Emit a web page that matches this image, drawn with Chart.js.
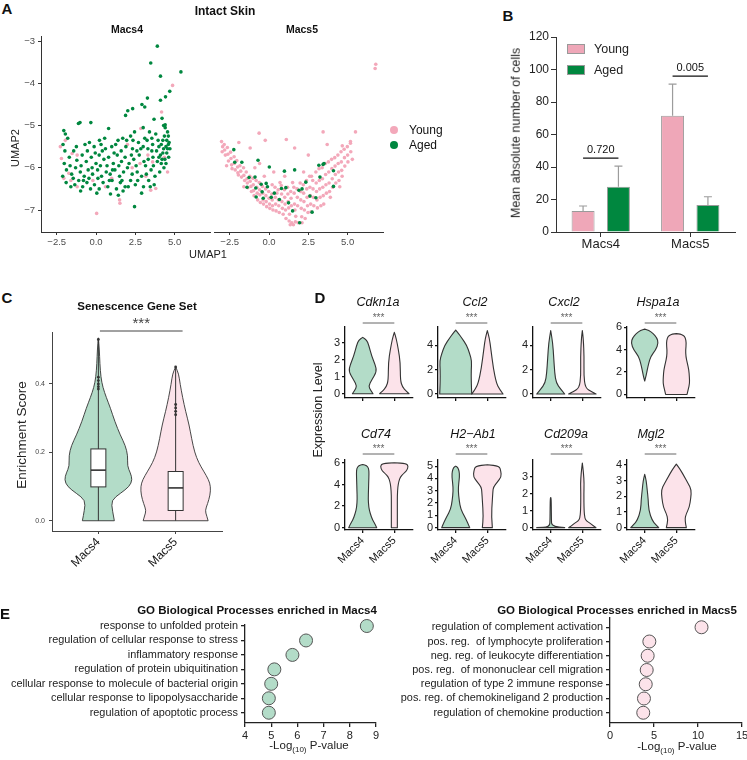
<!DOCTYPE html>
<html>
<head>
<meta charset="utf-8">
<title>Macs4 / Macs5 in intact skin</title>
<script src="https://cdn.jsdelivr.net/npm/chart.js@4.4.1/dist/chart.umd.min.js"></script>
<style>
  body { margin: 0; background: #fff; }
  #fig { position: relative; width: 747px; height: 760px; overflow: hidden; background: #fff;
         font-family: "Liberation Sans", Arial, sans-serif; color: #111; }
  #fig canvas { position: absolute; }
  .t { position: absolute; white-space: pre; line-height: 1; }
  .sw { position: absolute; }
</style>
</head>
<body>
<div id="fig"></div>
<script>
// ---------- A: UMAP, intact skin ----------
const umapXTicks = [-2.5, 0, 2.5, 5];
const umapYTicks = [-7, -6, -5, -4, -3];
const macs4Aged = [
  [-2.05,-5.12],[-1.95,-5.2],[-2.1,-5.45],[-1.98,-5.6],[-2.02,-5.9],[-1.88,-6.05],[-2.12,-6.2],[-1.9,-6.35],
  [-1.7,-5.75],[-1.55,-6.15],[-1.6,-6.45],[-1.42,-5.6],[-1.35,-6.4],[-1.3,-6.0],[-1.22,-5.82],[-1.1,-6.3],
  [-1.12,-4.95],[-1.02,-4.93],[-1.0,-6.1],[-0.98,-6.55],[-0.88,-5.7],[-0.85,-6.45],[-0.75,-6.2],[-0.7,-5.45],
  [-0.62,-5.85],[-0.58,-6.35],[-0.5,-6.05],[-0.42,-5.4],[-0.35,-6.5],[-0.3,-5.75],[-0.22,-6.15],[-0.12,-5.5],
  [-0.1,-6.4],[0.0,-5.9],[0.05,-6.6],[0.1,-6.05],[0.2,-5.7],[0.22,-5.35],[0.2,-6.5],[0.32,-5.45],[0.35,-6.2],
  [0.45,-6.35],[0.5,-5.8],[0.55,-5.3],[0.6,-5.55],[0.65,-6.1],[0.75,-6.45],[0.8,-5.75],[0.8,-5.07],[0.9,-6.15],
  [0.92,-6.62],[1.0,-5.5],[1.02,-6.3],[1.1,-5.9],[1.2,-6.05],[1.25,-5.45],[1.3,-6.5],[1.35,-5.7],[1.4,-5.35],
  [1.42,-6.65],[1.5,-6.2],[1.55,-6.35],[1.6,-5.6],[1.62,-5.85],[1.7,-5.3],[1.72,-6.55],[1.75,-6.1],[1.85,-5.75],
  [1.85,-6.45],[1.9,-5.5],[2.0,-6.0],[2.1,-5.9],[2.2,-5.25],[2.2,-6.3],[2.3,-6.15],[2.32,-5.55],[2.4,-5.8],
  [2.45,-5.15],[2.5,-6.4],[2.6,-5.6],[2.62,-6.1],[2.7,-5.4],[2.75,-5.7],[2.9,-6.2],[2.9,-6.6],[3.0,-5.5],
  [3.0,-5.05],[3.02,-6.45],[3.05,-5.85],[3.1,-5.3],[3.2,-6.15],[3.3,-5.55],[3.32,-5.8],[3.35,-6.3],[3.4,-5.15],
  [3.5,-6.05],[3.55,-5.3],[3.6,-5.45],[3.62,-5.75],[3.7,-6.4],[3.75,-6.2],[3.8,-5.2],[3.85,-5.6],[3.9,-5.85],
  [4.0,-5.5],[4.05,-6.1],[4.1,-5.7],[4.15,-5.45],[4.2,-5.8],[4.25,-5.65],[4.3,-5.0],[4.3,-5.55],[4.32,-6.0],
  [4.4,-5.05],[4.45,-5.5],[4.45,-5.9],[4.5,-5.35],[4.5,-5.65],[4.6,-5.25],[4.6,-5.45],[4.62,-5.75],[4.7,-5.55],
  [-1.8,-5.3],[-1.65,-5.95],[-1.45,-6.25],[-1.25,-5.5],[-0.95,-5.95],[-0.8,-6.3],[-0.55,-5.6],[-0.45,-6.25],
  [-0.25,-6.0],[-0.05,-5.65],[0.12,-6.25],[0.28,-5.95],[0.4,-5.6],[0.7,-5.95],[0.85,-6.3],[1.05,-6.05],
  [1.15,-5.65],[1.45,-5.95],[1.65,-6.3],[1.95,-5.35],[2.05,-6.45],[2.25,-5.7],[2.55,-5.95],[2.65,-6.3],
  [2.85,-5.55],[3.15,-5.95],[3.25,-5.35],[3.45,-6.45],[3.65,-5.95],[3.95,-5.35],[4.0,-5.75],[4.15,-5.9],
  [4.25,-5.35],[4.35,-5.25],[4.55,-5.55],[4.65,-5.4],[4.55,-5.15],[4.38,-5.8],[3.55,-5.6],[2.35,-5.35],
  [3.9,-3.12],[3.48,-3.52],[4.1,-3.83],[5.4,-3.73],[4.69,-4.19],[4.42,-4.32],[4.1,-4.4],[3.27,-4.35],[3.1,-4.56],
  [2.92,-4.5],[2.33,-4.6],[1.88,-4.76],[2.02,-4.65],[3.69,-4.85],[4.2,-4.83],[4.4,-4.98],[-0.33,-4.93],[2.45,-6.92]
];
const macs4Young = [
  [4.87,-4.05],[4.17,-4.68],[2.85,-5.07],[-2.27,-5.5],[-2.2,-5.78],[-1.52,-5.66],[-1.2,-5.7],[0.04,-7.08],
  [1.5,-6.76],[1.52,-6.84],[3.48,-6.53],[3.8,-6.49],[3.17,-6.2],[3.6,-5.86],[-1.2,-6.45],[-1.73,-6.13],
  [-2.05,-6.25],[2.3,-6.0],[2.0,-5.45],[1.0,-6.25],[-0.2,-6.3],[3.3,-5.7],[4.55,-6.1],[4.35,-5.75],
  [-1.6,-6.3],[0.6,-6.45],[2.8,-5.9],[-1.95,-5.35]
];
const macs5Young = [
  [-3.02,-5.38],[-2.95,-5.5],[-2.98,-5.62],[-2.85,-5.45],[-2.82,-5.58],[-2.78,-5.7],[-2.65,-5.52],[-2.62,-5.68],
  [-2.58,-5.84],[-2.45,-5.63],[-2.42,-5.78],[-2.38,-5.93],[-2.35,-6.02],[-2.22,-5.74],[-2.2,-5.9],[-2.15,-6.05],
  [-2.05,-5.83],[-2.0,-5.98],[-1.98,-6.12],[-1.95,-6.17],[-1.85,-5.95],[-1.8,-6.08],[-1.75,-6.22],[-1.62,-6.0],
  [-1.6,-6.18],[-1.55,-6.3],[-1.45,-6.1],[-1.4,-6.26],[-1.38,-6.36],[-1.35,-6.47],[-1.22,-6.2],[-1.2,-6.32],
  [-1.15,-6.44],[-1.12,-6.56],[-1.02,-6.25],[-1.0,-6.4],[-0.98,-6.54],[-0.95,-6.66],[-0.82,-6.3],[-0.78,-6.46],
  [-0.75,-6.6],[-0.72,-6.76],[-0.62,-6.35],[-0.6,-6.52],[-0.58,-6.64],[-0.55,-6.82],[-0.42,-6.44],[-0.4,-6.6],
  [-0.38,-6.76],[-0.35,-6.86],[-0.22,-6.5],[-0.2,-6.66],[-0.18,-6.8],[-0.15,-6.92],[-0.02,-6.56],[0.0,-6.72],
  [0.03,-6.86],[0.05,-6.96],[0.18,-6.62],[0.2,-6.76],[0.22,-6.9],[0.25,-7.0],[0.38,-6.46],[0.4,-6.7],
  [0.42,-6.86],[0.45,-7.02],[0.58,-6.52],[0.6,-6.76],[0.62,-6.9],[0.65,-7.06],[0.78,-6.42],[0.8,-6.62],
  [0.82,-6.8],[0.85,-6.96],[0.98,-6.52],[1.0,-6.7],[1.02,-6.86],[1.05,-7.0],[1.08,-7.2],[1.18,-6.46],
  [1.2,-6.62],[1.22,-6.8],[1.25,-6.95],[1.28,-7.26],[1.38,-6.56],[1.4,-6.72],[1.42,-6.9],[1.45,-7.3],
  [1.58,-6.46],[1.6,-6.6],[1.62,-6.86],[1.65,-7.0],[1.68,-7.28],[1.78,-6.5],[1.8,-6.7],[1.82,-6.9],
  [1.85,-7.3],[1.98,-6.36],[2.0,-6.56],[2.02,-6.76],[2.05,-6.96],[2.08,-7.16],[2.18,-6.4],[2.2,-6.6],
  [2.22,-6.8],[2.25,-7.0],[2.38,-6.3],[2.4,-6.5],[2.42,-6.7],[2.45,-6.9],[2.48,-7.06],[2.58,-6.2],
  [2.6,-6.46],[2.62,-6.66],[2.65,-6.86],[2.68,-7.04],[2.78,-6.3],[2.8,-6.5],[2.82,-6.7],[2.85,-6.9],
  [2.98,-6.1],[3.0,-6.36],[3.02,-6.56],[3.05,-6.76],[3.08,-6.95],[3.18,-6.02],[3.2,-6.3],[3.22,-6.5],
  [3.25,-6.7],[3.38,-6.0],[3.4,-6.26],[3.42,-6.46],[3.45,-6.66],[3.48,-6.86],[3.58,-5.9],[3.6,-6.16],
  [3.62,-6.4],[3.65,-6.6],[3.78,-5.86],[3.8,-6.1],[3.82,-6.36],[3.85,-6.56],[3.98,-5.8],[4.0,-6.02],
  [4.02,-6.26],[4.05,-6.46],[4.18,-5.76],[4.2,-5.96],[4.22,-6.16],[4.25,-6.36],[4.38,-5.7],[4.4,-5.9],
  [4.42,-6.1],[4.45,-6.3],[4.58,-5.62],[4.6,-5.86],[4.62,-6.06],[4.65,-6.2],[4.78,-5.56],[4.8,-5.76],
  [4.82,-5.96],[4.98,-5.5],[5.0,-5.7],[5.02,-5.86],[5.18,-5.42],[5.2,-5.62],
  [0.5,-6.6],[0.9,-7.1],[1.3,-7.1],[1.7,-7.15],[2.3,-7.2],[2.1,-7.3],[1.55,-7.35],[1.35,-7.35],
  [0.7,-6.35],[1.5,-6.35],[2.7,-6.2],[-1.6,-6.45],[-0.9,-6.0],[3.3,-6.9],[3.9,-6.7],[4.5,-6.45],
  [5.3,-5.8],[-2.7,-5.95],[-0.3,-6.2],[0.2,-6.4],
  [-0.63,-5.18],[1.1,-5.33],[3.44,-5.15],[-0.24,-5.35],[-1.2,-5.53],[-1.92,-5.4],[1.63,-5.53],[3.7,-5.45],
  [4.66,-5.48],[5.18,-5.38],[5.5,-5.15],[6.79,-3.55],[6.75,-3.65],[2.5,-5.7],[0.3,-6.1],[-0.6,-5.9],
  [1.0,-6.2],[2.2,-6.1]
];
const macs5Aged = [
  [-2.24,-5.57],[-2.18,-5.87],[-1.73,-5.87],[-0.7,-5.82],[0.02,-5.98],[0.98,-6.08],[1.63,-6.05],[-0.89,-6.22],
  [-1.27,-6.23],[-0.5,-6.39],[-0.18,-6.37],[-0.1,-6.45],[-1.4,-6.46],[-0.84,-6.48],[-0.44,-6.57],[-0.82,-6.69],
  [-0.37,-6.72],[0.14,-6.7],[0.34,-6.6],[0.79,-6.49],[1.07,-6.47],[0.66,-6.75],[1.24,-6.83],[1.5,-7.02],
  [1.9,-6.53],[2.1,-6.5],[2.34,-6.34],[2.6,-6.67],[2.98,-6.71],[2.74,-7.05],[1.95,-7.3],[3.24,-6.22],
  [3.17,-5.94],[3.44,-5.92],[3.5,-5.9],[4.1,-6.07],[4.1,-6.44]
];

// ---------- B: mean absolute number of cells ----------
const cellTypes = ['Macs4', 'Macs5'];
const youngMean = [12.9, 71.5];
const youngSem = [3.1, 19.5];
const agedMean = [27.8, 16.6];
const agedSem = [12.7, 5.1];
const pValues = ['0.720', '0.005'];
const pLevels = [45.5, 95.9];
const barYTicks = [0, 20, 40, 60, 80, 100, 120];

// ---------- C: senescence gene set enrichment ----------
const scoreTicks = [0, 0.2, 0.4];
const scoreLevels4 = [0, 0.03, 0.06, 0.08, 0.10, 0.12, 0.14, 0.16, 0.19, 0.22, 0.25, 0.29, 0.33, 0.36, 0.39, 0.42, 0.46, 0.50, 0.535];
const scoreDens4 = [16, 14, 13, 22, 31, 34, 32, 29, 29.5, 27, 22, 16.5, 12, 8, 4.5, 2.5, 1.5, 1, 0];
const scoreLevels5 = [0, 0.015, 0.03, 0.05, 0.075, 0.10, 0.12, 0.145, 0.17, 0.20, 0.24, 0.28, 0.32, 0.36, 0.40, 0.43, 0.45];
const scoreDens5 = [32.5, 31, 29.5, 32, 34.5, 35, 33, 28, 23, 19, 16, 13.5, 10, 7, 4.5, 3, 0];
// min, q1, median, q3, max
const scoreBox = [[0, 0.099, 0.148, 0.21, 0.53], [0, 0.030, 0.096, 0.144, 0.45]];
const scoreOutliers = [[0.385, 0.392, 0.40, 0.41, 0.42, 0.53], [0.31, 0.32, 0.33, 0.34, 0.45]];

// ---------- D: expression level per gene ----------
const genes = ['Cdkn1a', 'Ccl2', 'Cxcl2', 'Hspa1a', 'Cd74', 'H2\u2212Ab1', 'Cd209a', 'Mgl2'];
const exprMin = [-0.25, -0.33, -0.33, -0.32, -0.21, -0.19, -0.14, -0.15];
const exprMax = [3.91, 5.5, 5.5, 6.04, 6.27, 5.5, 3.98, 4.31];
const exprTicks = [[0,1,2,3], [0,2,4], [0,2,4], [0,2,4,6], [0,2,4,6], [0,1,2,3,4,5], [0,1,2,3], [0,1,2,3,4]];
const exprLevels4 = [
  [0, 0.2, 0.45, 0.8, 1.3, 1.7, 2.2, 2.85, 3.15, 3.3],
  [0, 1, 2, 2.7, 3.3, 4, 4.6, 5.0, 5.25],
  [0, 0.4, 0.9, 1.7, 3.0, 4.2, 5.2],
  [1.2, 1.7, 2.2, 2.8, 3.4, 4.0, 4.6, 5.1, 5.45, 5.75, 5.85],
  [0, 0.3, 0.7, 1.3, 1.9, 2.7, 3.5, 4.3, 5.0, 5.5, 5.75, 5.85],
  [0, 0.4, 0.9, 1.5, 2.2, 3.0, 3.6, 4.15, 4.6, 4.9, 5.0],
  [0, 0.03, 0.5, 1.2, 1.75, 1.77],
  [0, 0.2, 0.45, 1.1, 1.8, 2.4, 3.0, 3.4]
];
const exprDens4 = [
  [10.3, 8, 5.8, 9, 14, 12.5, 9, 6, 4, 0],
  [16, 15.5, 15.5, 16, 14, 11, 6, 2.5, 0],
  [14, 10, 5.5, 4, 3, 2, 0],
  [0, 1.5, 2.5, 4, 6, 11, 13.7, 12, 8.5, 4, 0],
  [14, 12.5, 10, 7.5, 6, 5.5, 5.8, 6, 6.3, 6, 4, 0],
  [14, 12, 9, 5, 3.5, 2.5, 3, 3.8, 3.5, 2, 0],
  [14, 1, 0.7, 0.6, 0.4, 0],
  [14, 11, 7.5, 4, 3.5, 2.5, 1.5, 0]
];
const exprLevels5 = [
  [0, 0.15, 0.4, 0.8, 1.8, 2.6, 3.2, 3.6],
  [0, 0.4, 0.9, 2.1, 3.7, 4.6, 5.2],
  [0, 0.2, 0.5, 1.5, 3.0, 4.5, 5.2],
  [0, 0.5, 1, 1.6, 2.2, 2.8, 3.4, 4.0, 4.6, 5.1, 5.3, 5.4, 5.45],
  [0, 1, 2, 3, 3.8, 4.3, 4.7, 5.0, 5.3, 5.7, 5.95, 6.02],
  [0, 0.9, 2.25, 2.9, 3.3, 3.7, 4.15, 4.6, 5.0, 5.12],
  [0, 0.1, 0.25, 0.4, 0.55, 1.0, 2.0, 2.6, 3.2, 3.8],
  [0, 0.5, 0.9, 1.3, 1.9, 2.4, 2.8, 3.25, 3.7, 4.05]
];
const exprDens5 = [
  [14.7, 12, 8, 6, 6, 4, 2, 0],
  [15.7, 12, 9, 6, 3.5, 2, 0],
  [13.7, 9, 3, 1.5, 1.8, 1, 0],
  [10.7, 12, 13.3, 13, 12.5, 11, 9.5, 9.3, 10, 9, 7, 4, 0],
  [3, 3, 3, 3, 3.5, 4.5, 6, 9, 12.5, 14, 12, 0],
  [5, 4, 5, 5.5, 6, 10, 14, 13.5, 12, 0],
  [13.7, 11, 8, 4, 2.5, 1.7, 1.5, 1.8, 1.2, 0],
  [10, 8.3, 10, 13, 14.5, 15, 12, 8, 4, 0]
];

// ---------- E: GO biological processes ----------
const go4Terms = ['response to unfolded protein', 'regulation of cellular response to stress', 'inflammatory response',
  'regulation of protein ubiquitination', 'cellular response to molecule of bacterial origin',
  'cellular response to lipopolysaccharide', 'regulation of apoptotic process'];
const go4Vals = [8.65, 6.33, 5.81, 5.12, 5.0, 4.91, 4.91];
const go4Ticks = [4, 5, 6, 7, 8, 9];
const go5Terms = ['regulation of complement activation', 'pos. reg.  of lymphocyte proliferation',
  'neg. reg. of leukocyte differentiation', 'pos. reg.  of mononuclear cell migration',
  'regulation of type 2 immune response', 'pos. reg. of chemokineligand 2 production', 'regulation of chemokine production'];
const go5Vals = [10.4, 4.47, 4.28, 4.17, 4.06, 3.86, 3.78];
const go5Ticks = [0, 5, 10, 15];

const PINK = '#F3A8BA', GREEN = '#00873F';
const VGREEN = '#B3DCC8', VPINK = '#FCE3EA';

const fig = document.getElementById('fig');
Chart.defaults.font.family = '"Liberation Sans", Arial, sans-serif';
Chart.defaults.color = '#222';

// canvas placed so that its chart area lands on [l, t, r, b] of the page
function makeChart(area, yW, xH, padT, padR, config) {
  const [l, t, r, b] = area;
  const left = l - yW, top = t - padT;
  const cv = document.createElement('canvas');
  cv.width = r - left + padR;
  cv.height = b + xH - top;
  cv.style.left = left + 'px';
  cv.style.top = top + 'px';
  fig.appendChild(cv);
  const o = config.options;
  o.responsive = false;
  o.animation = false;
  o.layout = { autoPadding: false, padding: { left: 0, top: padT, right: padR, bottom: 0 } };
  o.plugins = Object.assign({ legend: { display: false }, tooltip: { enabled: false } }, o.plugins || {});
  if (o.scales.x.display !== false) o.scales.x.afterFit = s => { s.height = xH; };
  if (o.scales.y.display !== false) o.scales.y.afterFit = s => { s.width = yW; };
  return new Chart(cv, config);
}

function axis(min, max, ticks, fmt, o = {}) {
  const lc = o.lineColor || '#333', lw = o.lineWidth || 1;
  return {
    type: 'linear', min, max, reverse: !!o.reverse, display: o.display !== false,
    border: { display: o.border !== false, color: lc, width: lw },
    grid: { drawOnChartArea: false, drawTicks: true, tickLength: o.tickLength || 3, color: lc, lineWidth: lw },
    ticks: { display: o.labels !== false, autoSkip: false, padding: o.padding ?? 2,
             font: { size: o.size || 10 }, color: o.color || '#333',
             minRotation: o.rotation || 0, maxRotation: o.rotation || 0, callback: fmt },
    afterBuildTicks: s => { s.ticks = ticks.map(v => ({ value: v })); }
  };
}

function put(html, x, y, css, align, rot) {
  const d = document.createElement('div');
  d.className = 't';
  d.innerHTML = html;
  d.style.cssText += css;
  d.style.left = x + 'px';
  d.style.top = y + 'px';
  const tx = align === 'l' ? '0' : align === 'r' ? '-100%' : '-50%';
  d.style.transform = 'translate(' + tx + ',-50%)' + (rot ? ' rotate(' + rot + 'deg)' : '');
  fig.appendChild(d);
}

function smoothPath(ctx, pts) {
  ctx.moveTo(pts[0][0], pts[0][1]);
  for (let i = 1; i < pts.length - 1; i++) {
    const mx = (pts[i][0] + pts[i + 1][0]) / 2, my = (pts[i][1] + pts[i + 1][1]) / 2;
    ctx.quadraticCurveTo(pts[i][0], pts[i][1], mx, my);
  }
  ctx.lineTo(pts[pts.length - 1][0], pts[pts.length - 1][1]);
}

// violins drawn through the chart's own x / y scales
function violinPlugin(items, k, lw) {
  return {
    id: 'violins',
    beforeDatasetsDraw(chart) {
      const { ctx, scales: { x, y } } = chart;
      ctx.save();
      items.forEach(v => {
        const pts = [];
        v.levels.forEach((lv, i) => pts.push([x.getPixelForValue(v.center + v.dens[i] * k), y.getPixelForValue(lv)]));
        for (let i = v.levels.length - 1; i >= 0; i--)
          pts.push([x.getPixelForValue(v.center - v.dens[i] * k), y.getPixelForValue(v.levels[i])]);
        ctx.beginPath();
        smoothPath(ctx, pts);
        ctx.closePath();
        ctx.fillStyle = v.color;
        ctx.fill();
        ctx.strokeStyle = '#333';
        ctx.lineWidth = lw;
        ctx.lineJoin = 'round';
        ctx.stroke();
      });
      ctx.restore();
    }
  };
}

function boxPlugin(stats, half) {
  return {
    id: 'boxes',
    beforeDatasetsDraw(chart) {
      const { ctx, scales: { x, y } } = chart;
      ctx.save();
      ctx.strokeStyle = '#333';
      ctx.lineWidth = 1;
      stats.forEach((s, i) => {
        const c = x.getPixelForValue(i + 1), x0 = x.getPixelForValue(i + 1 - half), x1 = x.getPixelForValue(i + 1 + half);
        ctx.beginPath();
        ctx.moveTo(c, y.getPixelForValue(s[0]));
        ctx.lineTo(c, y.getPixelForValue(s[4]));
        ctx.stroke();
        const top = y.getPixelForValue(s[3]), bot = y.getPixelForValue(s[1]);
        ctx.fillStyle = '#fff';
        ctx.fillRect(x0, top, x1 - x0, bot - top);
        ctx.strokeRect(x0, top, x1 - x0, bot - top);
        ctx.beginPath();
        ctx.lineWidth = 1.6;
        ctx.moveTo(x0, y.getPixelForValue(s[2]));
        ctx.lineTo(x1, y.getPixelForValue(s[2]));
        ctx.stroke();
        ctx.lineWidth = 1;
      });
      ctx.restore();
    }
  };
}

// significance bracket above the plot area
function sigPlugin(x1, x2, lineUp, starUp, font, color) {
  return {
    id: 'sig',
    afterDraw(chart) {
      const { ctx, chartArea, scales: { x } } = chart;
      ctx.save();
      ctx.strokeStyle = color;
      ctx.lineWidth = 1;
      const ly = chartArea.top - lineUp;
      ctx.beginPath();
      ctx.moveTo(x.getPixelForValue(x1), ly);
      ctx.lineTo(x.getPixelForValue(x2), ly);
      ctx.stroke();
      ctx.fillStyle = color;
      ctx.font = font;
      ctx.textAlign = 'center';
      ctx.textBaseline = 'middle';
      ctx.fillText('***', (x.getPixelForValue(x1) + x.getPixelForValue(x2)) / 2, chartArea.top - starUp);
      ctx.restore();
    }
  };
}

const pts = arr => arr.map(([x, y]) => ({ x, y }));
const minus = v => (v < 0 ? '\u2212' : '') + Math.abs(v);

// ---------- A ----------
function umapChart(area, yW, aged, young, showY) {
  return makeChart(area, yW, 18, 12, 8, {
    type: 'scatter',
    data: { datasets: [
      { data: pts(aged), backgroundColor: GREEN, pointRadius: 1.8, pointBorderWidth: 0 },
      { data: pts(young), backgroundColor: PINK, pointRadius: 1.8, pointBorderWidth: 0 }
    ] },
    options: { scales: {
      x: axis(-3.5, 7.25, umapXTicks, v => (v < 0 ? '\u2212' : '') + Math.abs(v).toFixed(1), { size: 9.5, color: '#4d4d4d', padding: 2 }),
      y: axis(-7.52, -2.88, umapYTicks, minus, { size: 9.5, color: '#4d4d4d', padding: 3, display: showY })
    } }
  });
}
umapChart([41, 36, 210, 232], 41, macs4Aged, macs4Young, true);
umapChart([214, 36, 383, 232], 0, macs5Aged, macs5Young, false);

// ---------- B ----------
const barExtras = {
  id: 'barExtras',
  afterDatasetsDraw(chart) {
    const { ctx, scales: { y } } = chart;
    ctx.save();
    ctx.strokeStyle = '#9c9c9c';
    ctx.lineWidth = 1.2;
    [youngSem, agedSem].forEach((sem, di) => {
      chart.getDatasetMeta(di).data.forEach((bar, i) => {
        const m = chart.data.datasets[di].data[i];
        const top = y.getPixelForValue(m + sem[i]);
        ctx.beginPath();
        ctx.moveTo(bar.x, bar.y);
        ctx.lineTo(bar.x, top);
        ctx.moveTo(bar.x - 4, top);
        ctx.lineTo(bar.x + 4, top);
        ctx.stroke();
      });
    });
    ctx.strokeStyle = '#111';
    ctx.fillStyle = '#111';
    ctx.lineWidth = 1.3;
    ctx.font = '11px "Liberation Sans", Arial, sans-serif';
    ctx.textAlign = 'center';
    ctx.textBaseline = 'bottom';
    pValues.forEach((p, i) => {
      const a = chart.getDatasetMeta(0).data[i].x, b = chart.getDatasetMeta(1).data[i].x;
      const ly = y.getPixelForValue(pLevels[i]);
      ctx.beginPath();
      ctx.moveTo(a, ly);
      ctx.lineTo(b, ly);
      ctx.stroke();
      ctx.fillText(p, (a + b) / 2, ly - 3);
    });
    ctx.restore();
  }
};
makeChart([556, 37, 735, 232], 41, 28, 12, 10, {
  type: 'bar',
  data: { labels: cellTypes, datasets: [
    { data: youngMean, backgroundColor: '#EFA7B8', borderColor: '#9a9a9a', borderWidth: 1 },
    { data: agedMean, backgroundColor: GREEN, borderColor: '#9a9a9a', borderWidth: 1 }
  ] },
  options: {
    datasets: { bar: { categoryPercentage: 0.79, barPercentage: 0.65 } },
    scales: {
      x: { type: 'category', border: { color: '#333', width: 1 },
           grid: { offset: false, drawOnChartArea: false, tickLength: 5, color: '#333' },
           ticks: { font: { size: 13 }, color: '#222', padding: 0 } },
      y: axis(0, 120, barYTicks, v => v, { tickLength: 5, size: 12, color: '#222', padding: 2 })
    }
  },
  plugins: [barExtras]
});

// ---------- C ----------
const outlierPts = [];
scoreOutliers.forEach((list, i) => list.forEach(v => outlierPts.push({ x: i + 1, y: v })));
makeChart([52, 332, 222, 531], 42, 45, 20, 8, {
  type: 'scatter',
  data: { datasets: [{ data: outlierPts, backgroundColor: '#333', pointRadius: 1.4, pointBorderWidth: 0 }] },
  options: { scales: {
    x: axis(0.4, 2.6, [1, 2], v => cellTypes[v - 1], { rotation: 45, size: 12, color: '#111', padding: 1, lineColor: '#444' }),
    y: axis(-0.03, 0.552, scoreTicks, v => v.toFixed(1), { size: 7, color: '#444', padding: 4, lineColor: '#444' })
  } },
  plugins: [
    violinPlugin([
      { center: 1, levels: scoreLevels4, dens: scoreDens4, color: VGREEN },
      { center: 2, levels: scoreLevels5, dens: scoreDens5, color: VPINK }
    ], 1 / 77.3, 0.9),
    boxPlugin(scoreBox, 0.097),
    sigPlugin(1.02, 2.09, 1, 8, '15px "Liberation Sans", Arial, sans-serif', '#444')
  ]
});

// ---------- D ----------
const dCols = [345, 438, 533, 627];
const dRows = [[327, 398], [460, 530]];
genes.forEach((g, i) => {
  const col = i % 4, row = Math.floor(i / 4);
  const area = [dCols[col], dRows[row][0], dCols[col] + 68, dRows[row][1]];
  makeChart(area, 25, row === 0 ? 10 : 40, 20, 6, {
    type: 'scatter',
    data: { datasets: [] },
    options: { scales: {
      x: axis(0.44, 2.59, [1, 2], v => cellTypes[v - 1],
        { rotation: 45, size: 11, color: '#111', padding: 1, labels: row === 1, lineColor: '#111', lineWidth: 1.3 }),
      y: axis(exprMin[i], exprMax[i], exprTicks[i], v => v,
        { size: 11, color: '#222', padding: 2, lineColor: '#111', lineWidth: 1.3 })
    } },
    plugins: [
      violinPlugin([
        { center: 1, levels: exprLevels4[i], dens: exprDens4[i], color: VGREEN },
        { center: 2, levels: exprLevels5[i], dens: exprDens5[i], color: VPINK }
      ], 1 / 31.6, 1.1),
      sigPlugin(1, 2, row === 0 ? 4 : 6, row === 0 ? 9 : 11, '10px "Liberation Sans", Arial, sans-serif', '#666')
    ]
  });
});

// ---------- E ----------
function goChart(area, yW, padR, terms, vals, xMin, xMax, ticks, yMin, yMax, fill) {
  makeChart(area, yW, 20, 12, padR, {
    type: 'scatter',
    data: { datasets: [{
      data: vals.map((v, i) => ({ x: v, y: i })), clip: false,
      backgroundColor: fill, borderColor: '#555', pointRadius: 6.5, pointBorderWidth: 1
    }] },
    options: { scales: {
      x: axis(xMin, xMax, ticks, v => v, { size: 11, color: '#222', tickLength: 4, padding: 2, lineColor: '#222', lineWidth: 1.3 }),
      y: axis(yMin, yMax, terms.map((_, i) => i), v => terms[v],
        { reverse: true, size: 10.9, color: '#222', tickLength: 4, padding: 3, lineColor: '#222', lineWidth: 1.3 })
    } }
  });
}
goChart([245, 625, 376, 723], 245, 10, go4Terms, go4Vals, 4, 9, go4Ticks, -0.07, 6.71, VGREEN);
goChart([610, 618, 742, 723], 230, 10, go5Terms, go5Vals, 0, 15, go5Ticks, -0.65, 6.72, VPINK);

// ---------- text ----------
const bold15 = 'font-weight:bold;font-size:15px;';
put('A', 7, 8, bold15);
put('B', 508, 15, bold15);
put('C', 7, 297, bold15);
put('D', 320, 297, bold15);
put('E', 5, 613, bold15);

put('Intact Skin', 225, 11, 'font-weight:bold;font-size:12px;');
put('Macs4', 127, 29, 'font-weight:bold;font-size:10.5px;');
put('Macs5', 302, 29, 'font-weight:bold;font-size:10.5px;');
put('UMAP2', 15, 148, 'font-size:11px;color:#222;', 'c', -90);
put('UMAP1', 208, 254, 'font-size:11px;color:#222;');

const dot = (x, y, c) => {
  const d = document.createElement('div');
  d.className = 'sw';
  d.style.cssText = 'left:' + (x - 4) + 'px;top:' + (y - 4) + 'px;width:8px;height:8px;border-radius:50%;background:' + c;
  fig.appendChild(d);
};
dot(394, 130, PINK);
dot(394, 145, GREEN);
put('Young', 409, 130, 'font-size:12px;', 'l');
put('Aged', 409, 145, 'font-size:12px;', 'l');

put('Mean absolute number of cells', 516, 133, 'font-size:12.5px;color:#222;', 'c', -90);
const swatch = (x, y, c) => {
  const d = document.createElement('div');
  d.className = 'sw';
  d.style.cssText = 'left:' + x + 'px;top:' + y + 'px;width:16px;height:8px;border:1px solid #999;background:' + c;
  fig.appendChild(d);
};
swatch(567, 44, '#EFA7B8');
swatch(567, 65, GREEN);
put('Young', 594, 49, 'font-size:12.5px;color:#222;', 'l');
put('Aged', 594, 70, 'font-size:12.5px;color:#222;', 'l');

put('Senescence Gene Set', 137, 307, 'font-weight:bold;font-size:11.5px;');
put('Enrichment Score', 22, 435, 'font-size:13.5px;color:#222;', 'c', -90);

put('Expression Level', 318, 410, 'font-size:12.5px;color:#222;', 'c', -90);
const dTitleX = [378, 475, 564, 658, 376, 473, 566, 651];
genes.forEach((g, i) => put(g, dTitleX[i], i < 4 ? 302 : 434, 'font-style:italic;font-size:12.5px;'));

put('GO Biological Processes enriched in Macs4', 257, 611, 'font-weight:bold;font-size:11.5px;');
put('GO Biological Processes enriched in Macs5', 617, 611, 'font-weight:bold;font-size:11.5px;');
const xt = '-Log<sub style="font-size:8px;vertical-align:-3px">(10)</sub> P-value';
put(xt, 309, 747, 'font-size:11.5px;color:#222;');
put(xt, 677, 748, 'font-size:11.5px;color:#222;');
</script>
</body>
</html>
